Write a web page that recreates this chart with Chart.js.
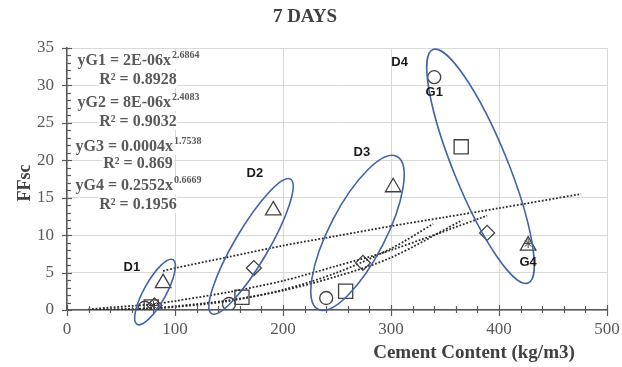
<!DOCTYPE html>
<html><head><meta charset="utf-8">
<script src="https://cdn.jsdelivr.net/npm/chart.js@4/dist/chart.umd.min.js"></script>
<style>html,body{margin:0;padding:0;background:#fff}</style>
</head><body>
<canvas id="c" width="622" height="367"></canvas>
<script>
// ---- data ----
const xTickValues = [0,100,200,300,400,500];
const yTickValues = [0,5,10,15,20,25,30,35];

const g1X = [72,150,240,340];   const g1Y = [0.3,0.8,1.6,31.1];   // circles
const g2X = [78,162,258,365];   const g2Y = [0.4,1.7,2.5,21.8];   // squares
const g3X = [81,173,274,389];   const g3Y = [0.6,5.6,6.3,10.3];   // diamonds
const g4X = [89,191,302,427];   const g4Y = [3.6,13.3,16.4,8.6];  // triangles
const starX = [80,427];         const starY = [0.6,8.9];

// trendlines (dotted)
const tG1X = [20,72,100,150,200,250,300,339];
const tG1Y = [0.0,0.2,0.4,1.2,2.7,5.0,8.2,11.5];
const tG2X = [20,78,100,150,200,250,300,366];
const tG2Y = [0.0,0.2,0.5,1.3,2.6,4.5,7.0,12.0];
const tG3X = [20,81,100,150,200,250,300,389];
const tG3Y = [0.1,0.8,1.2,2.4,3.9,5.9,8.0,12.6];
const tG4X = [89,100,150,200,250,300,350,400,476];
const tG4Y = [5.2,5.6,7.1,8.6,9.9,11.2,12.4,13.6,15.5];

const groupLabels = ['D1','D2','D3','D4','G1','G4'];
const groupLabelX = [60,174,273,308,340,427];
const groupLabelY = [5.75,18.3,21.0,33.1,29.1,6.4];

const eqMain = ['yG1 = 2E-06x','yG2 = 8E-06x','yG3 = 0.0004x','yG4 = 0.2552x'];
const eqExp  = ['2.6864','2.4083','1.7538','0.6669'];
const eqR2   = ['R² = 0.8928','R² = 0.9032','R² = 0.869','R² = 0.1956'];

// ellipse annotations (center in data units, radii in px, rotation in degrees)
const ellipseCX = [81.5,170.4,269,382.9];
const ellipseCY = [2.4,8.5,10.3,19.2];
const ellipseRX = [37,78,86,126];
const ellipseRY = [11,17,28,27];
const ellipseRot = [-61,-59.6,-62.7,67.8];

const pts = (xs,ys)=>xs.map((v,i)=>({x:v,y:ys[i]}));
const markerColor = '#404040';
const trendStyle = {type:'scatter',showLine:true,pointRadius:0,borderColor:'#2a2a2a',borderWidth:1.8,borderDash:[1.8,1.8],fill:false,tension:0.3};

const serif = '"Liberation Serif","Times New Roman",serif';

const annot = {
  id:'annot',
  afterDatasetsDraw(chart){
    const {ctx, scales:{x,y}, chartArea:ca} = chart;
    ctx.save();
    ctx.strokeStyle = '#3f65a6'; ctx.lineWidth = 1.6;
    ellipseCX.forEach((cx,i)=>{
      ctx.beginPath();
      ctx.ellipse(x.getPixelForValue(cx), y.getPixelForValue(ellipseCY[i]), ellipseRX[i], ellipseRY[i], ellipseRot[i]*Math.PI/180, 0, Math.PI*2);
      ctx.stroke();
    });
    ctx.font = 'bold 13px "Liberation Sans", Arial, sans-serif';
    ctx.fillStyle = '#1a1a1a'; ctx.textAlign='center'; ctx.textBaseline='middle';
    groupLabels.forEach((t,i)=>ctx.fillText(t, x.getPixelForValue(groupLabelX[i]), y.getPixelForValue(groupLabelY[i])));
    const cxEq = ca.left + 71;
    const baseMain = [17,59,103,142];
    const baseR = [36,78,120,161];
    ctx.textBaseline='alphabetic'; ctx.textAlign='left';
    eqMain.forEach((t,i)=>{
      ctx.font = 'bold 16px '+serif;
      const w1 = ctx.measureText(t).width;
      ctx.font = 'bold 10px '+serif;
      const w2 = ctx.measureText(eqExp[i]).width;
      const left = cxEq - (w1+w2)/2;
      const by = ca.top + baseMain[i];
      ctx.fillStyle='#fff'; ctx.fillRect(left-1, by-14, w1+w2+3, 18);
      ctx.fillStyle='#595959';
      ctx.font = 'bold 16px '+serif; ctx.fillText(t, left, by);
      ctx.font = 'bold 10px '+serif; ctx.fillText(eqExp[i], left+w1+1, by-7);
      ctx.font = 'bold 16px '+serif;
      const w3 = ctx.measureText(eqR2[i]).width;
      const br = ca.top + baseR[i];
      ctx.fillStyle='#fff'; ctx.fillRect(cxEq-w3/2-1, br-13, w3+2, 17);
      ctx.fillStyle='#595959';
      ctx.fillText(eqR2[i], cxEq-w3/2, br);
    });
    ctx.restore();
  },
  afterDraw(chart){
    const {ctx, scales:{x,y}, chartArea:ca} = chart;
    ctx.save();
    ctx.strokeStyle='#595959'; ctx.lineWidth=1.2;
    for(let v=0; v<=500; v+=20){
      const px = Math.round(x.getPixelForValue(v))+0.5;
      const major = v%100===0;
      ctx.beginPath(); ctx.moveTo(px, ca.bottom-(major?5:4)); ctx.lineTo(px, ca.bottom+(major?6:3)); ctx.stroke();
    }
    for(let v=0; v<=35; v+=1){
      const py = Math.round(y.getPixelForValue(v))+0.5;
      const major = v%5===0;
      ctx.beginPath(); ctx.moveTo(ca.left-(major?5:0), py); ctx.lineTo(ca.left+(major?5:4), py); ctx.stroke();
    }
    ctx.fillStyle='#404040'; ctx.textAlign='center'; ctx.textBaseline='middle';
    ctx.font='bold 19px '+serif;
    ctx.fillText('7 DAYS', 305, 17);
    ctx.fillText('Cement Content (kg/m3)', 474, 353);
    ctx.translate(25,183); ctx.rotate(-Math.PI/2);
    ctx.font='bold 18px '+serif;
    ctx.fillText('FFsc', 0, 0);
    ctx.restore();
  }
};

new Chart(document.getElementById('c'), {
  type:'scatter',
  data:{datasets:[
    {...trendStyle, label:'tG1', data:pts(tG1X,tG1Y)},
    {...trendStyle, label:'tG2', data:pts(tG2X,tG2Y)},
    {...trendStyle, label:'tG3', data:pts(tG3X,tG3Y)},
    {...trendStyle, label:'tG4', data:pts(tG4X,tG4Y)},
    {label:'G1', data:pts(g1X,g1Y), pointStyle:'circle', radius:6.5, borderColor:markerColor, backgroundColor:'rgba(0,0,0,0)', borderWidth:1.3},
    {label:'G2', data:pts(g2X,g2Y), pointStyle:'rect', radius:10, borderColor:markerColor, backgroundColor:'rgba(0,0,0,0)', borderWidth:1.3},
    {label:'G3', data:pts(g3X,g3Y), pointStyle:'rectRot', radius:7.5, borderColor:markerColor, backgroundColor:'rgba(0,0,0,0)', borderWidth:1.3},
    {label:'G4', data:pts(g4X,g4Y), pointStyle:'triangle', radius:9, borderColor:markerColor, backgroundColor:'rgba(0,0,0,0)', borderWidth:1.3},
    {label:'star', data:pts(starX,starY), pointStyle:'star', radius:4.5, borderColor:markerColor, backgroundColor:'rgba(0,0,0,0)', borderWidth:1}
  ]},
  options:{
    responsive:false, animation:false, devicePixelRatio:1,
    layout:{padding:{top:48,right:15,left:0,bottom:0}},
    plugins:{legend:{display:false},tooltip:{enabled:false},title:{display:false}},
    scales:{
      x:{type:'linear',min:0,max:500,
        afterBuildTicks:(s)=>{s.ticks = xTickValues.map(v=>({value:v}));},
        afterFit:(s)=>{s.height=57; s.paddingLeft=0; s.paddingRight=0;},
        ticks:{font:{family:serif,size:17},color:'#595959',padding:9,maxRotation:0},
        grid:{color:'#d9d9d9',lineWidth:1,drawTicks:false},
        border:{display:true,color:'#595959',width:1.5}
      },
      y:{type:'linear',min:0,max:35,
        afterBuildTicks:(s)=>{s.ticks = yTickValues.map(v=>({value:v}));},
        afterFit:(s)=>{s.width=67; s.paddingTop=0; s.paddingBottom=0;},
        ticks:{font:{family:serif,size:17},color:'#595959',padding:13},
        grid:{color:'#d9d9d9',lineWidth:1,drawTicks:false},
        border:{display:true,color:'#595959',width:1.5}
      }
    }
  },
  plugins:[annot]
});
</script>
</body></html>
